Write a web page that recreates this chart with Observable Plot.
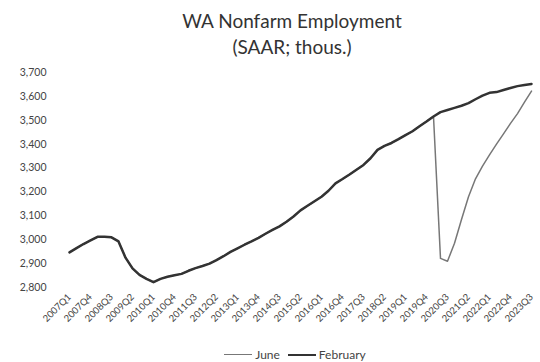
<!DOCTYPE html>
<html>
<head>
<meta charset="utf-8">
<script src="https://cdn.jsdelivr.net/npm/d3@7"></script>
<script src="https://cdn.jsdelivr.net/npm/@observablehq/plot@0.6"></script>
<style>
  html, body { margin: 0; padding: 0; background: #fff; }
  body { width: 540px; height: 362px; position: relative; overflow: hidden; font-family: Lato, "Open Sans", sans-serif; color: #333; }
  #title { position: absolute; left: 0; top: 0; width: 540px; text-align: center; font-size: 19px; line-height: 26px; padding-top: 8px; padding-left: 44px; box-sizing: border-box; color: #333; }
  #chart { position: absolute; left: 0; top: 56px; }
  #legend { position: absolute; left: 0; top: 347px; width: 540px; display: flex; justify-content: center; align-items: center; font-size: 12px; color: #444; padding-left: 50px; box-sizing: border-box; }
  .sw { display: inline-block; width: 28px; margin-right: 3px; }
  .item { display: flex; align-items: center; margin: 0 4px; }
</style>
</head>
<body>
<div id="title">WA Nonfarm Employment<br>(SAAR; thous.)</div>
<div id="chart"></div>
<div id="legend">
  <span class="item"><span class="sw" style="border-top:1.5px solid #777"></span>June</span>
  <span class="item"><span class="sw" style="border-top:2.5px solid #333"></span>February</span>
</div>
<script>
// Quarter categories 2007Q1 .. 2023Q3
const quarters = [];
for (let y = 2007; y <= 2023; y++) for (let q = 1; q <= 4; q++) { if (y === 2023 && q > 3) break; quarters.push(y + "Q" + q); }

const tickLabels = ["2007Q1","2007Q4","2008Q3","2009Q2","2010Q1","2010Q4","2011Q3","2012Q2","2013Q1","2013Q4","2014Q3","2015Q2","2016Q1","2016Q4","2017Q3","2018Q2","2019Q1","2019Q4","2020Q3","2021Q2","2022Q1","2022Q4","2023Q3"];
const yTicks = [2800, 2900, 3000, 3100, 3200, 3300, 3400, 3500, 3600, 3700];

const february = [
  2947, 2965, 2982, 2997, 3012, 3012, 3010, 2993, 2925, 2880,
  2853, 2836, 2822, 2836, 2845, 2851, 2857, 2870, 2881, 2890,
  2900, 2915, 2931, 2949, 2964, 2979, 2993, 3008, 3025, 3041,
  3056, 3075, 3097, 3123, 3142, 3161, 3180, 3205, 3236, 3254,
  3273, 3293, 3313, 3341, 3376, 3393, 3405, 3421, 3438, 3454,
  3475, 3495, 3516, 3534, 3543, 3552, 3561, 3572, 3588, 3603,
  3615, 3618, 3627, 3635, 3643, 3648, 3652
];
const june = [
  2947, 2965, 2982, 2997, 3012, 3012, 3010, 2993, 2925, 2880,
  2853, 2836, 2822, 2836, 2845, 2851, 2857, 2870, 2881, 2890,
  2900, 2915, 2931, 2949, 2964, 2979, 2993, 3008, 3025, 3041,
  3056, 3075, 3097, 3123, 3142, 3161, 3180, 3205, 3236, 3254,
  3273, 3293, 3313, 3341, 3376, 3393, 3405, 3421, 3438, 3454,
  3475, 3495, 3516, 2922, 2910, 2985, 3085, 3180, 3255, 3308,
  3355, 3400, 3443, 3487, 3528, 3576, 3622
];

const febData = quarters.map((q, i) => ({q, v: february[i]}));
const junData = quarters.map((q, i) => ({q, v: june[i]}));

const plot = Plot.plot({
  width: 540,
  height: 280,
  marginLeft: 62,
  marginRight: 3,
  marginTop: 16,
  marginBottom: 49,
  style: { fontFamily: "Lato, 'Open Sans', sans-serif", color: "#444", background: "transparent" },
  x: { type: "point", domain: quarters, padding: 0 },
  y: { domain: [2800, 3700] },
  marks: [
    Plot.axisY(yTicks, { tickSize: 0, tickPadding: 16, tickFormat: d3.format(","), fontSize: 10.5, label: null }),
    Plot.axisX(tickLabels, { tickSize: 0, tickPadding: 8, tickRotate: -45, fontSize: 9.5, label: null, textAnchor: "end" }),
    Plot.lineY(junData, { x: "q", y: "v", stroke: "#777", strokeWidth: 1.5 }),
    Plot.lineY(febData, { x: "q", y: "v", stroke: "#333", strokeWidth: 2.5 })
  ]
});
document.getElementById("chart").appendChild(plot);
</script>
</body>
</html>
